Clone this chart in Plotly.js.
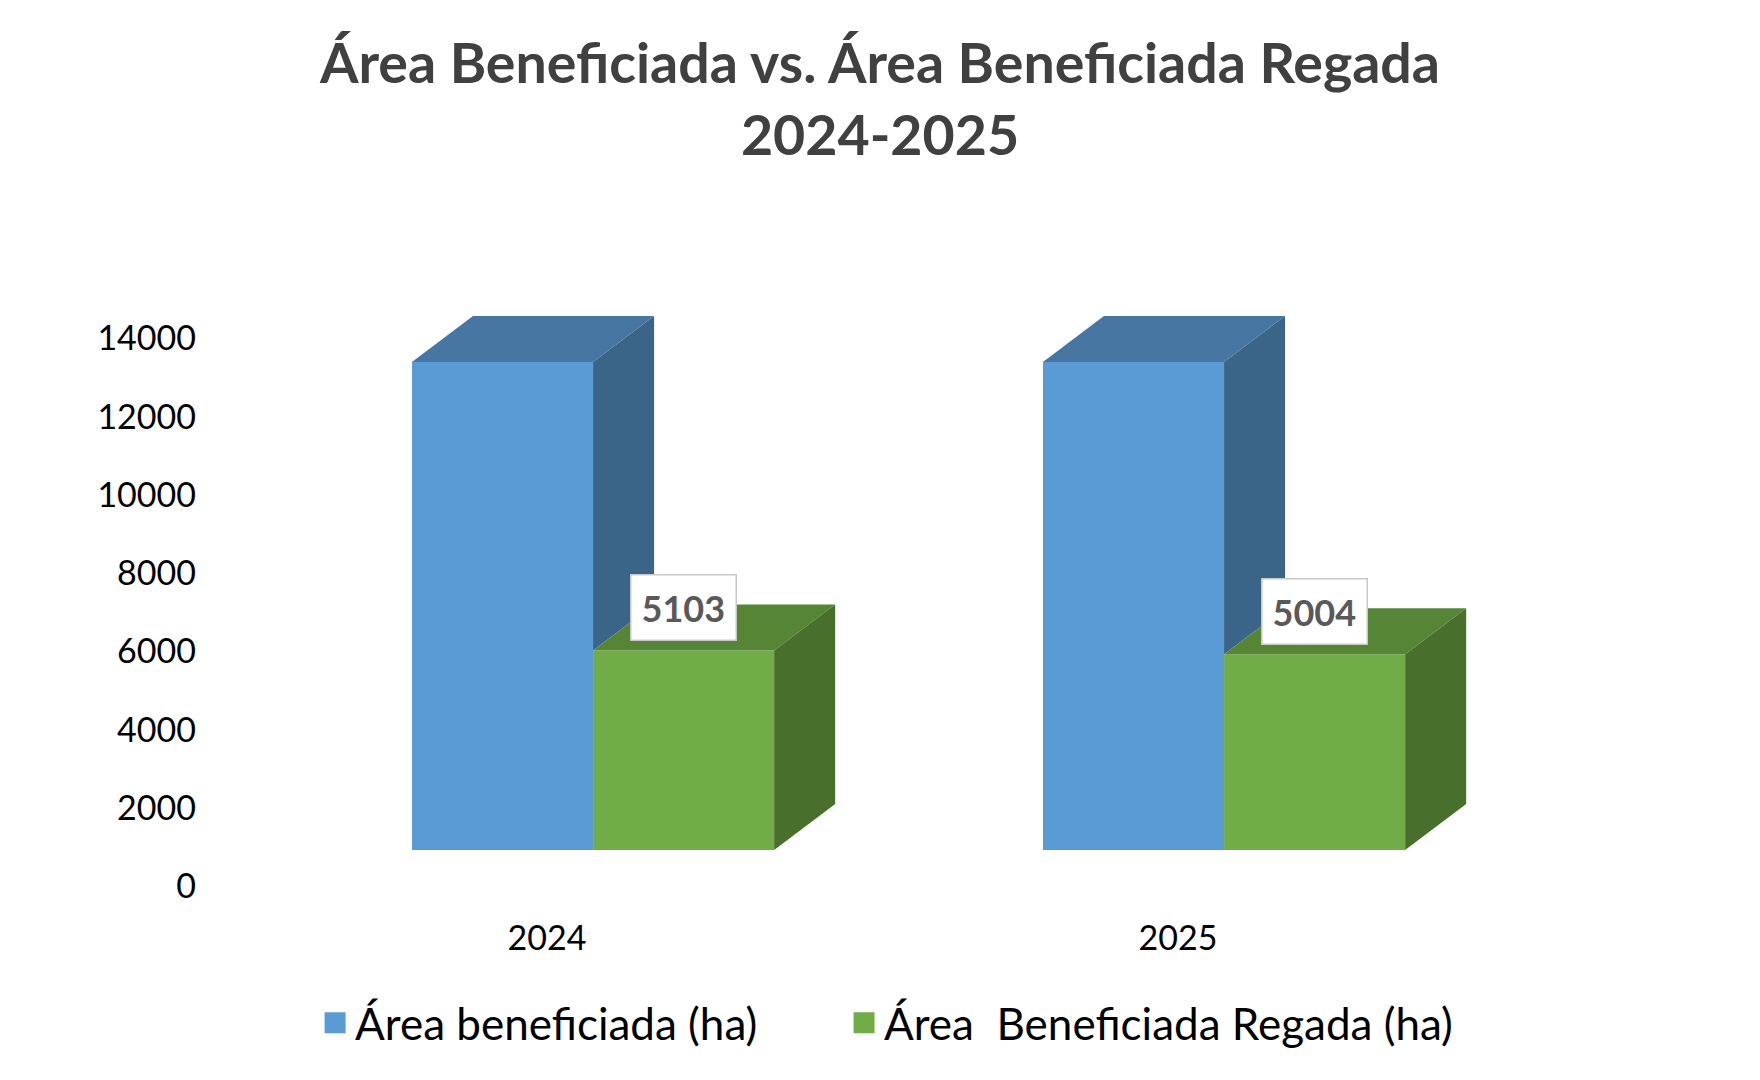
<!DOCTYPE html>
<html>
<head>
<meta charset="utf-8">
<script src="https://cdn.plot.ly/plotly-3.0.1.min.js"></script>
<style>
html, body { margin: 0; padding: 0; background: #ffffff; }
#chart { width: 1760px; height: 1080px; }
</style>
</head>
<body>
<div id="chart"></div>
<script>
// ---- data ----
const years = ['2024', '2025'];
const areaBeneficiada = [12480, 12480];
const areaRegada = [5103, 5004];
const seriesNames = ['Área beneficiada (ha)', 'Área  Beneficiada Regada (ha)'];
const yTicks = [0, 2000, 4000, 6000, 8000, 10000, 12000, 14000];
const chartTitle = 'Área Beneficiada vs. Área Beneficiada Regada<br>2024-2025';

// ---- geometry / style ----
const FONT = 'Lato, "Open Sans", sans-serif';
const pos = years.map((_, i) => i);
const W = 0.287;          // bar width (x units)
const OFF_B = -0.214;     // blue bar offset from category position
const OFF_G = OFF_B + W;  // green bar offset
const DX = 0.0967;        // 3D depth, x units
const DY = 1176;          // 3D depth, y units

const COL = {
  blueFront: '#5b9bd5', blueTop: '#4676a1', blueSide: '#3a6488',
  greenFront: '#70ad47', greenTop: '#578536', greenSide: '#496f2c'
};

function polyTrace(builder, color) {
  const xs = [], ys = [];
  pos.forEach((p, i) => {
    const pts = builder(p, i);
    pts.forEach(pt => { xs.push(pt[0]); ys.push(pt[1]); });
    xs.push(null); ys.push(null);
  });
  return {
    type: 'scatter', mode: 'lines', x: xs, y: ys, fill: 'toself',
    fillcolor: color, line: { width: 0, color: color },
    hoverinfo: 'skip', showlegend: false
  };
}

const blueTop = polyTrace((p, i) => {
  const x0 = p + OFF_B, x1 = x0 + W, v = areaBeneficiada[i];
  return [[x0, v], [x1, v], [x1 + DX, v + DY], [x0 + DX, v + DY]];
}, COL.blueTop);

const blueSide = polyTrace((p, i) => {
  const x1 = p + OFF_B + W, v = areaBeneficiada[i], g = areaRegada[i];
  return [[x1, g], [x1, v], [x1 + DX, v + DY], [x1 + DX, g + DY]];
}, COL.blueSide);

const greenTop = polyTrace((p, i) => {
  const x1 = p + OFF_G, x2 = x1 + W, g = areaRegada[i];
  return [[x1, g], [x2, g], [x2 + DX, g + DY], [x1 + DX, g + DY]];
}, COL.greenTop);

const greenSide = polyTrace((p, i) => {
  const x2 = p + OFF_G + W, g = areaRegada[i];
  return [[x2, 0], [x2, g], [x2 + DX, g + DY], [x2 + DX, DY]];
}, COL.greenSide);

const blueBars = {
  type: 'bar', name: seriesNames[0], x: pos, y: areaBeneficiada,
  width: W, offset: OFF_B, showlegend: false, legendgroup: 'a',
  marker: { color: COL.blueFront, line: { width: 0 } },
  hovertemplate: '%{y}<extra></extra>'
};
const greenBars = {
  type: 'bar', name: seriesNames[1], x: pos, y: areaRegada,
  width: W, offset: OFF_G, showlegend: false, legendgroup: 'b',
  marker: { color: COL.greenFront, line: { width: 0 } },
  hovertemplate: '%{y}<extra></extra>'
};

// legend entries (square swatches) for the two bar series
function legendKey(name, color, group, legendId) {
  return {
    type: 'scatter', mode: 'markers', x: [null], y: [null], name: name,
    legendgroup: group, showlegend: true, hoverinfo: 'skip', legend: legendId,
    marker: { symbol: 'square', size: 22, color: color, line: { width: 5, color: color } }
  };
}
const blueKey = legendKey(seriesNames[0], COL.blueFront, 'a', 'legend');
const greenKey = legendKey(seriesNames[1], COL.greenFront, 'b', 'legend2');

const labels = pos.map((p, i) => ({
  x: p + OFF_G + W / 2, y: areaRegada[i], xref: 'x', yref: 'y',
  text: '<b>' + areaRegada[i] + '</b>', showarrow: false,
  yanchor: 'bottom', xanchor: 'center', yshift: 9,
  font: { family: FONT, size: 36, color: '#595959' },
  bgcolor: '#ffffff', bordercolor: '#c8c8c8', borderwidth: 1.5, borderpad: 10
}));

const legendFont = { family: FONT, size: 44, color: '#000000' };

const layout = {
  width: 1760, height: 1080,
  paper_bgcolor: '#ffffff', plot_bgcolor: '#ffffff',
  margin: { l: 197, r: 140, t: 279, b: 183, pad: 0 },
  barmode: 'overlay',
  title: {
    text: '<b>' + chartTitle + '</b>',
    x: 0.5, xref: 'container', xanchor: 'center',
    y: 0.923, yref: 'container', yanchor: 'top',
    font: { family: FONT, size: 55.5, color: '#404040' }
  },
  xaxis: {
    range: [-0.5547, 1.7005], tickvals: pos, ticktext: years,
    showgrid: false, zeroline: false, showline: false, ticks: '',
    ticklabelstandoff: 18,
    tickfont: { family: FONT, size: 34, color: '#000000' }
  },
  yaxis: {
    range: [-1200, 14600], tickvals: yTicks, tickformat: 'd',
    showgrid: false, zeroline: false, showline: false, ticks: '',
    ticklabelshift: 36,
    tickfont: { family: FONT, size: 34, color: '#000000' }
  },
  legend: {
    orientation: 'h', x: 0.083, xanchor: 'left', y: -0.204, yanchor: 'middle',
    itemclick: false, font: legendFont
  },
  legend2: {
    orientation: 'h', x: 0.4547, xanchor: 'left', y: -0.204, yanchor: 'middle',
    itemclick: false, font: legendFont
  },
  annotations: labels,
  showlegend: true
};

Plotly.newPlot('chart',
  [blueBars, greenBars, blueSide, blueTop, greenTop, greenSide, blueKey, greenKey],
  layout, { displayModeBar: false, staticPlot: true });
</script>
</body>
</html>
